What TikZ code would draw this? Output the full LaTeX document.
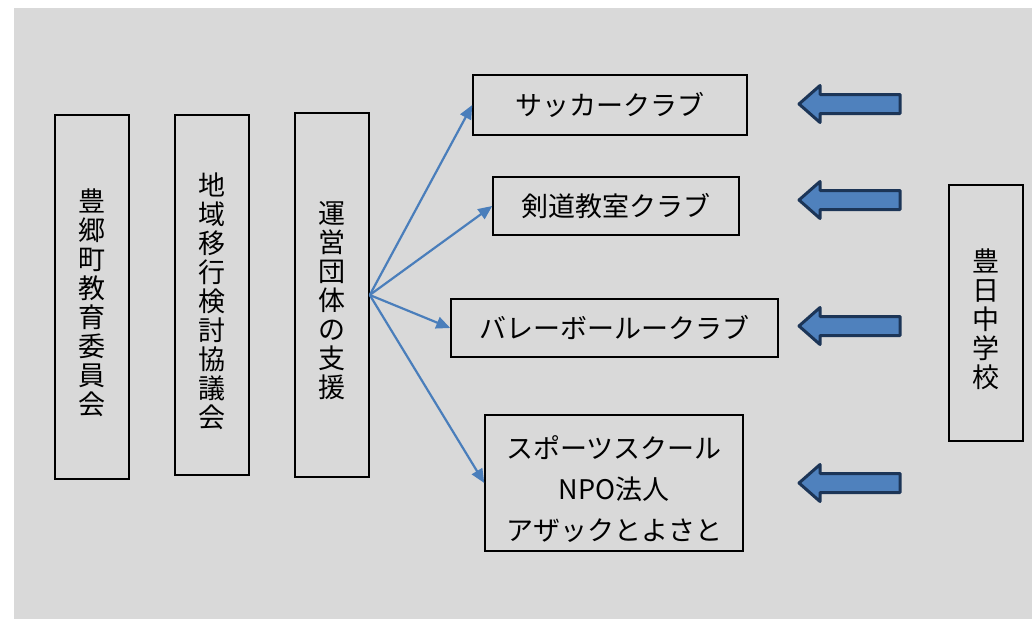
\documentclass[tikz,border=0pt]{standalone}
\usepackage{fontspec}
\setmainfont{Noto Sans CJK JP}
\usetikzlibrary{arrows.meta}

\definecolor{bggray}{HTML}{D9D9D9}
\definecolor{linkblue}{HTML}{4A7EBB}
\definecolor{arrowblue}{HTML}{4F81BD}
\definecolor{arrownavy}{HTML}{1C3557}

\begin{document}
\begin{tikzpicture}[x=1pt,y=-1pt,
 box/.style={draw,line width=1.5pt,inner sep=0pt,align=center,
  font=\fontsize{27}{29}\selectfont},
 vbox/.style={box,minimum width=74pt,
  label={[align=center,font=\fontsize{27}{29}\selectfont,yshift=-6pt]center:#1}},
 link/.style={draw=linkblue,line width=2.2pt,-{Triangle[length=14pt,width=12pt]}},
 bigarrow/.style={fill=arrowblue,draw=arrownavy,line width=3pt,line join=round}]

  \useasboundingbox (0,0) rectangle (1032,619);
  \fill[bggray] (14,8) rectangle (1032,619);

  \node[vbox={豊\\郷\\町\\教\\育\\委\\員\\会},minimum height=364pt] (b1) at (92,297) {};
  \node[vbox={地\\域\\移\\行\\検\\討\\協\\議\\会},minimum height=360pt] (b2) at (212,295) {};
  \node[vbox={運\\営\\団\\体\\の\\支\\援},minimum height=364pt] (b3) at (332,295) {};

  \node[box,minimum width=274pt,minimum height=60pt] (s1) at (610,105) {サッカークラブ};
  \node[box,minimum width=246pt,minimum height=58pt] (s2) at (616,206) {剣道教室クラブ};
  \node[box,minimum width=327pt,minimum height=58pt] (s3) at (614.5,328) {バレーボールークラブ};
  \node[box,minimum width=258pt,minimum height=136pt,font=\fontsize{27}{41}\selectfont] (s4) at (614,483)
   {\rule{0pt}{36pt}スポーツスクール\\NPO法人\\アザックとよさと};

  \node[vbox={豊\\日\\中\\学\\校},minimum height=256pt] (sch) at (986,313) {};

  \foreach \t in {s1,s2,s3,s4} {
   \path[link] (b3.east) -- (\t.west);}

  \foreach \y in {104,200,326,483} {
   \draw[bigarrow] (799,\y) -- ++(21,-18.5) -- ++(0,9) -- ++(80,0) -- ++(0,19) -- ++(-80,0) -- ++(0,9) -- cycle;}
\end{tikzpicture}
\end{document}
